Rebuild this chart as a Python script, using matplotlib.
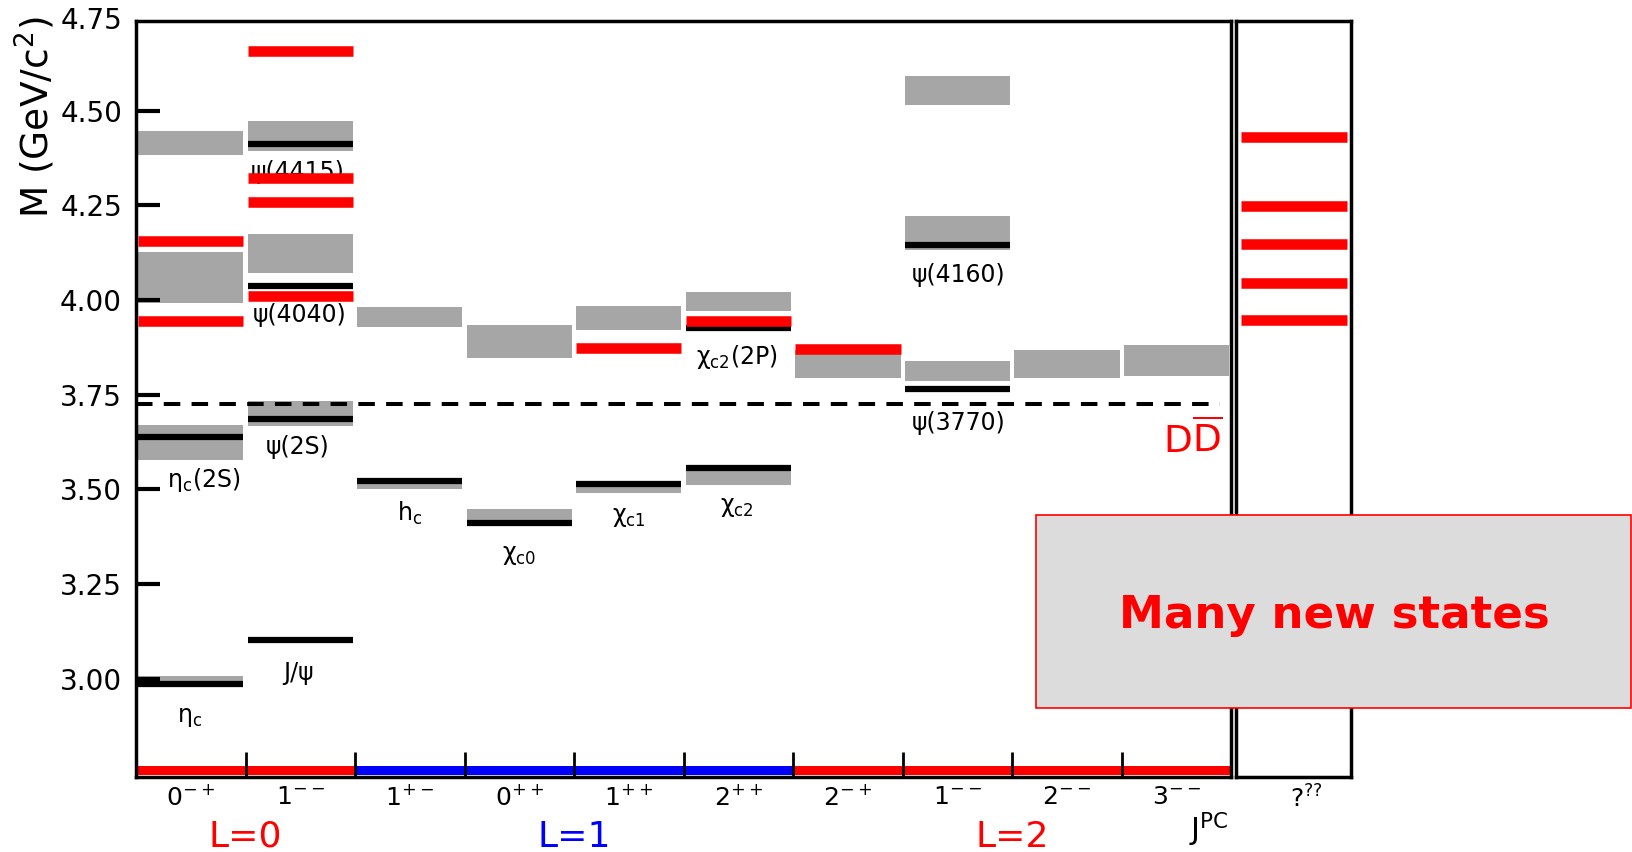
import numpy as np
import matplotlib.pyplot as plt
from matplotlib.patches import Rectangle

plt.rcParams['mathtext.fontset'] = 'dejavusans'
plt.rcParams['font.family'] = 'DejaVu Sans'

# J^PC columns
jpc = ['0$^{\\mathregular{-+}}$', '1$^{\\mathregular{--}}$', '1$^{\\mathregular{+-}}$',
       '0$^{\\mathregular{++}}$', '1$^{\\mathregular{++}}$', '2$^{\\mathregular{++}}$',
       '2$^{\\mathregular{-+}}$', '1$^{\\mathregular{--}}$', '2$^{\\mathregular{--}}$',
       '3$^{\\mathregular{--}}$']

# predicted levels (grey bands), column + low/high mass in GeV
gray_col = [0, 0, 0, 0, 1, 1, 1, 2, 2, 3, 3, 4, 4, 5, 5, 6, 7, 7, 7, 8, 9]
gray_lo = [4.382, 3.992, 3.576, 2.994, 4.393, 4.071, 3.667, 3.928, 3.500, 3.846, 3.418,
           3.922, 3.490, 3.972, 3.510, 3.794, 4.516, 4.131, 3.786, 3.794, 3.799]
gray_hi = [4.447, 4.128, 3.669, 3.007, 4.474, 4.173, 3.732, 3.981, 3.513, 3.933, 3.447,
           3.985, 3.505, 4.020, 3.547, 3.869, 4.593, 4.223, 3.838, 3.869, 3.880]

# known states (black)
black_col = [0, 0, 1, 1, 1, 1, 2, 3, 4, 5, 5, 7, 7]
black_m = [3.638, 2.986, 4.412, 4.037, 3.686, 3.102, 3.522, 3.411, 3.514, 3.925, 3.556,
           4.144, 3.765]

# new states (red)
red_col = [0, 0, 1, 1, 1, 1, 4, 5, 6]
red_m = [4.157, 3.945, 4.657, 4.322, 4.259, 4.010, 3.873, 3.945, 3.870]

# unknown J^PC states
unknown_m = [4.431, 4.247, 4.148, 4.046, 3.947]

# state names
names = ['η$_\\mathregular{c}$(2S)', 'η$_\\mathregular{c}$', 'ψ(4415)', 'ψ(4040)', 'ψ(2S)',
         'J/ψ', 'h$_\\mathregular{c}$', 'χ$_\\mathregular{c0}$', 'χ$_\\mathregular{c1}$',
         'χ$_\\mathregular{c2}$', 'χ$_\\mathregular{c2}$(2P)', 'ψ(4160)', 'ψ(3770)']
name_x = [0.62, 0.49, 1.48, 1.49, 1.48, 1.48, 2.50, 3.50, 4.50, 5.49, 5.49, 7.51, 7.51]
name_y = [3.524, 2.899, 4.337, 3.960, 3.612, 3.014, 3.436, 3.326, 3.427, 3.454, 3.850,
          4.066, 3.674]

dd_threshold = 3.725

# orbital groups along the bottom
L_text = ['L=0', 'L=1', 'L=2']
L_pos = [1, 4, 8]
L_span = [(0, 2), (2, 6), (6, 10)]
L_color = ['#ff0000', '#0000ff', '#ff0000']

GRAY = '#a6a6a6'
RED = '#ff0000'

fig = plt.figure(figsize=(16.33, 8.52), dpi=100)
ax = fig.add_axes([136 / 1633, 75.3 / 852, (1231.3 - 136) / 1633, 755.7 / 852])
ax2 = fig.add_axes([1236.5 / 1633, 75.3 / 852, (1351.3 - 1236.5) / 1633, 755.7 / 852])

ymin, ymax = 2.7406, 4.737
ax.set_xlim(0, 10)
ax.set_ylim(ymin, ymax)
ax2.set_xlim(0, 1)
ax2.set_ylim(ymin, ymax)

gc = np.array(gray_col)
ax.bar(gc + 0.5, np.array(gray_hi) - np.array(gray_lo), bottom=gray_lo, width=0.96,
       color=GRAY, zorder=1)
bc = np.array(black_col)
ax.hlines(black_m, bc + 0.02, bc + 0.98, colors='k', lw=4.5, zorder=2)
rc = np.array(red_col)
ax.hlines(red_m, rc + 0.02, rc + 0.98, colors=RED, lw=7.6, zorder=4)
ax2.hlines(unknown_m, 0.04, 0.96, colors=RED, lw=7.6, zorder=4)

ax.hlines(dd_threshold, 0, 9.9, colors='k', lw=2.9, linestyles=(0, (4.1, 2.8)), zorder=2)

for t, x, y in zip(names, name_x, name_y):
    ax.text(x, y, t, ha='center', va='center', fontsize=17, zorder=3)

# D Dbar threshold label
ax.annotate('D', xy=(9.64, 3.599), xytext=(0, 0), textcoords='offset points',
            color=RED, fontsize=27, ha='right', va='baseline')
ax.annotate('$\\overline{\\mathregular{D}}$', xy=(9.64, 3.599), xytext=(0, 0),
            textcoords='offset points', color=RED, fontsize=27, ha='left', va='baseline')

# coloured strip along the bottom
for (a, b), c in zip(L_span, L_color):
    ax.add_patch(Rectangle((a, 0.0025), b - a, 0.0117, color=c, lw=0,
                           transform=ax.get_xaxis_transform(), zorder=1.5))
for t, x, c in zip(L_text, L_pos, L_color):
    ax.text(x, -0.0926, t, color=c, fontsize=26, ha='center', va='baseline',
            transform=ax.get_xaxis_transform())
ax.text(9.79, -0.0845, 'J$^{\\mathregular{PC}}$', fontsize=22, ha='center', va='baseline',
        transform=ax.get_xaxis_transform())

# axes styling
for a in (ax, ax2):
    for s in a.spines.values():
        s.set_linewidth(2.5)

ax.set_yticks([3.0, 3.25, 3.5, 3.75, 4.0, 4.25, 4.5])
ax.set_yticklabels(['3.00', '3.25', '3.50', '3.75', '4.00', '4.25', '4.50'])
ax.tick_params(axis='y', direction='in', length=17, width=3, labelsize=20, pad=10)
ax.annotate('4.75', xy=(0, 1), xycoords='axes fraction', xytext=(-10, 0),
            textcoords='offset points', ha='right', va='center', fontsize=20)

ax.set_xticks(np.arange(1, 10))
ax.set_xticklabels([])
ax.tick_params(axis='x', which='major', direction='in', length=18, width=2)
ax.set_xticks(np.arange(10) + 0.5, minor=True)
ax.set_xticklabels(jpc, minor=True)
ax.tick_params(axis='x', which='minor', length=0, labelsize=18, pad=6)

ax2.set_yticks([])
ax2.set_xticks([0.61])
ax2.set_xticklabels(['?$^{\\mathregular{??}}$'])
ax2.tick_params(axis='x', length=0, labelsize=18, pad=6)

fig.text(35 / 1633, 0.862, 'M (GeV/c$^{\\mathregular{2}}$)', rotation=90, ha='center',
         va='center', fontsize=27)

# "Many new states" box
fig.patches.append(Rectangle((1036 / 1633, 144.5 / 852), 595 / 1633, 192.2 / 852,
                             transform=fig.transFigure, facecolor='#dcdcdc',
                             edgecolor=RED, lw=1.2, zorder=5))
fig.text(1334 / 1633, 0.2626, 'Many new states', color=RED, fontsize=32.5,
         fontweight='bold', ha='center', va='baseline', zorder=6)

fig.savefig('out.png', dpi=100)
